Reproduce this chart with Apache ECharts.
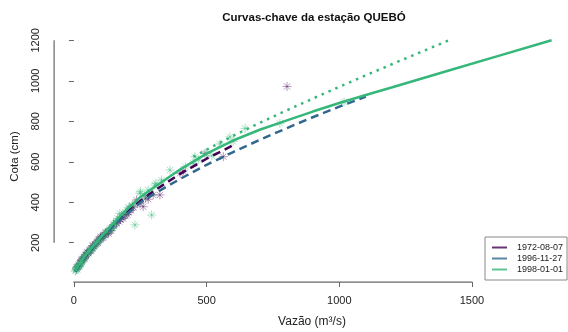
<!DOCTYPE html>
<html>
<head>
<meta charset="utf-8">
<script src="https://cdn.jsdelivr.net/npm/echarts@6/dist/echarts.min.js"></script>
<style>
  html, body { margin: 0; padding: 0; background: #fff; }
  #chart { width: 568px; height: 332px; }
</style>
</head>
<body>
<div id="chart"></div>
<script>
// ticks
var xTicks = [0, 500, 1000, 1500];
var yTicks = [200, 400, 600, 800, 1000, 1200];

// observed gaugings (vazao m3/s, cota cm)
var obsQ1972 = [10, 12, 15, 18, 22, 25, 28, 30, 35, 38, 42, 45, 48, 52, 55, 60, 63, 68, 72, 75, 80, 85, 88, 92, 95, 100, 105, 110, 115, 120, 125, 130, 135, 140, 150, 160, 170, 175, 185, 195, 205, 215, 225, 236, 249, 261, 299, 324, 400, 412, 494, 563, 803,
  20, 30, 40, 50, 65, 70, 90, 100, 110, 120, 130, 140, 150, 160, 180, 190, 200, 210, 220, 240, 270, 280];
var obsH1972 = [70, 78, 82, 90, 95, 100, 110, 112, 120, 128, 130, 140, 145, 150, 148, 162, 165, 172, 180, 185, 190, 198, 205, 210, 215, 222, 225, 232, 240, 245, 250, 255, 262, 270, 282, 295, 305, 315, 320, 335, 350, 360, 375, 411, 395, 378, 436, 436, 543, 555, 641, 625, 972,
  85, 118, 122, 152, 160, 185, 200, 230, 225, 250, 245, 260, 290, 300, 325, 340, 340, 365, 380, 400, 420, 415];
var obsQ1998 = [5, 8, 10, 12, 15, 18, 20, 25, 30, 32, 38, 40, 45, 50, 55, 60, 65, 70, 78, 85, 95, 105, 115, 125, 135, 145, 155, 165, 173, 185, 200, 210, 230, 249, 251, 286, 293, 305, 309, 362, 450, 456, 470, 550, 588, 645, 776, 1018,
  10, 25, 35, 60, 75, 90, 100, 110, 130, 140, 150, 160, 180, 195, 205, 220, 240, 265, 280, 330, 420, 500, 520, 600];
var obsH1998 = [60, 65, 72, 68, 80, 85, 88, 98, 105, 115, 122, 130, 135, 142, 155, 158, 170, 172, 185, 195, 210, 228, 238, 252, 265, 275, 290, 320, 345, 335, 355, 370, 288, 444, 452, 444, 337, 485, 493, 559, 592, 625, 610, 688, 723, 765, 790, 896,
  78, 92, 118, 165, 180, 205, 215, 232, 258, 270, 285, 310, 330, 350, 375, 385, 395, 430, 460, 510, 575, 640, 630, 700];

// rating curves
var curveQ1972 = [5, 20, 50, 100, 150, 200, 250, 300, 400, 500, 610];
var curveH1972 = [60, 92, 147, 222, 290, 350, 405, 455, 540, 615, 688];
var curveQ1996 = [5, 20, 50, 100, 150, 200, 250, 300, 400, 500, 600, 700, 800, 900, 1000, 1100];
var curveH1996 = [58, 90, 145, 220, 285, 342, 398, 440, 515, 585, 648, 708, 765, 820, 872, 922];
var curveQ1998 = [5, 20, 50, 100, 150, 200, 250, 300, 400, 500, 600, 700, 800, 900, 1000, 1100, 1200, 1400, 1600, 1800];
var curveH1998 = [60, 95, 150, 225, 298, 365, 425, 472, 562, 640, 705, 758, 803, 848, 890, 930, 968, 1046, 1123, 1200];
var extrapQ1998 = [450, 500, 600, 700, 800, 900, 1000, 1100, 1200, 1300, 1413];
var extrapH1998 = [625, 660, 728, 792, 853, 912, 970, 1027, 1083, 1138, 1200];

var names = ['1972-08-07', '1996-11-27', '1998-01-01'];
var cores = ['#440154', '#31688E', '#35B779'];

function pares(q, h) {
  var out = [];
  for (var i = 0; i < q.length; i++) out.push([q[i], h[i]]);
  return out;
}

var font = 'Liberation Sans, Arial, sans-serif';
var eixo = '#666';
var estrela = 'path://M5,0L5,10M0,5L10,5M1.5,1.5L8.5,8.5M1.5,8.5L8.5,1.5';
var semVirgula = function (v) { return String(v); };
var yMin = 6, xMin = -75;

var chart = echarts.init(document.getElementById('chart'), null, { renderer: 'canvas' });

var option = {
  animation: false,
  backgroundColor: '#fff',
  textStyle: { fontFamily: font },
  grid: { left: 54, right: 16.4, top: 31, bottom: 50, outerBoundsMode: 'none' },
  graphic: [
    { id: 'titulo', type: 'text', x: 314, y: 18, style: { text: 'Curvas-chave da estação QUEBÓ', font: 'bold 11.5px ' + font, fill: '#111', textAlign: 'center', textVerticalAlign: 'middle' } },
    { id: 'tituloX', type: 'text', x: 312, y: 322, style: { text: 'Vazão (m³/s)', font: '12px ' + font, fill: '#222', textAlign: 'center', textVerticalAlign: 'middle' } },
    { id: 'tituloY', type: 'text', x: 15, y: 156.5, rotation: Math.PI / 2, style: { text: 'Cota (cm)', font: '11.5px ' + font, fill: '#222', textAlign: 'center', textVerticalAlign: 'middle' } }
  ],
  legend: {
    orient: 'vertical',
    left: 485,
    top: 237,
    borderColor: '#888',
    borderWidth: 1,
    padding: [5, 4, 5, 7],
    itemGap: 0,
    itemWidth: 15,
    itemHeight: 2,
    icon: 'rect',
    textStyle: { fontSize: 9, color: '#222', lineHeight: 11, fontFamily: font, padding: [0, 0, 0, 5] },
    data: [
      { name: names[0], itemStyle: { color: 'rgba(68,1,84,0.8)', borderWidth: 0 } },
      { name: names[1], itemStyle: { color: 'rgba(49,104,142,0.8)', borderWidth: 0 } },
      { name: names[2], itemStyle: { color: 'rgba(53,183,121,0.8)', borderWidth: 0 } }
    ]
  },
  xAxis: {
    type: 'value',
    min: xMin,
    max: 1800,
    axisLine: { show: false },
    splitLine: { show: false },
    axisTick: { show: true, length: 5, customValues: xTicks, lineStyle: { color: eixo } },
    axisLabel: { customValues: xTicks, formatter: semVirgula, fontSize: 11, color: '#222', margin: 13, fontFamily: font }
  },
  yAxis: {
    type: 'value',
    min: yMin,
    max: 1246,
    axisLine: { show: false },
    splitLine: { show: false },
    axisTick: { show: true, length: 5, customValues: yTicks, lineStyle: { color: eixo } },
    axisLabel: { customValues: yTicks, formatter: semVirgula, fontSize: 11, color: '#222', margin: 13, rotate: 90, fontFamily: font }
  },
  series: [
    {
      name: 'obs1972',
      type: 'scatter',
      clip: false,
      symbol: estrela,
      symbolSize: 9,
      itemStyle: { color: 'transparent', borderColor: 'rgba(68,1,84,0.5)', borderWidth: 1 },
      data: pares(obsQ1972, obsH1972)
    },
    {
      name: 'obs1998',
      type: 'scatter',
      clip: false,
      symbol: estrela,
      symbolSize: 9,
      itemStyle: { color: 'transparent', borderColor: 'rgba(53,183,121,0.55)', borderWidth: 1 },
      data: pares(obsQ1998, obsH1998)
    },
    {
      name: names[0],
      type: 'line',
      clip: false,
      showSymbol: false,
      lineStyle: { color: cores[0], width: 2.5, type: [8, 5] },
      itemStyle: { color: cores[0] },
      data: pares(curveQ1972, curveH1972)
    },
    {
      name: names[1],
      type: 'line',
      clip: false,
      showSymbol: false,
      lineStyle: { color: cores[1], width: 2.5, type: [8, 5] },
      itemStyle: { color: cores[1] },
      data: pares(curveQ1996, curveH1996)
    },
    {
      name: names[2],
      type: 'line',
      clip: false,
      showSymbol: false,
      lineStyle: { color: cores[2], width: 2.5, type: 'solid' },
      itemStyle: { color: cores[2] },
      data: pares(curveQ1998, curveH1998)
    },
    {
      name: names[2],
      type: 'line',
      clip: false,
      showSymbol: false,
      lineStyle: { color: cores[2], width: 2.5, type: [2.5, 5] },
      itemStyle: { color: cores[2] },
      data: pares(extrapQ1998, extrapH1998)
    }
  ]
};

chart.setOption(option);

// R draws the axis line only from first to last tick
var p0 = chart.convertToPixel({ gridIndex: 0 }, [xTicks[0], yMin]);
var p1 = chart.convertToPixel({ gridIndex: 0 }, [xTicks[xTicks.length - 1], yMin]);
var q0 = chart.convertToPixel({ gridIndex: 0 }, [xMin, yTicks[0]]);
var q1 = chart.convertToPixel({ gridIndex: 0 }, [xMin, yTicks[yTicks.length - 1]]);
chart.setOption({
  graphic: [
    { id: 'eixoX', type: 'rect', silent: true, z: 100, shape: { x: p0[0] - 0.5, y: p0[1] - 0.5, width: p1[0] - p0[0] + 1, height: 1.2 }, style: { fill: eixo } },
    { id: 'eixoY', type: 'rect', silent: true, z: 100, shape: { x: q0[0] - 0.5, y: q1[1], width: 1.2, height: q0[1] - q1[1] }, style: { fill: eixo } }
  ]
});
</script>
</body>
</html>
